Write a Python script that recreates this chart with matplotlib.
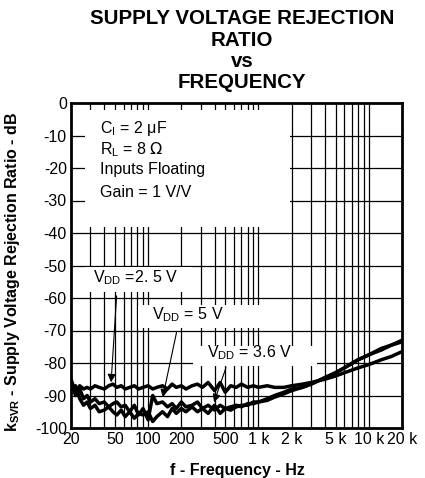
import numpy as np
import matplotlib
matplotlib.use("Agg")
import matplotlib.pyplot as plt
from matplotlib.patches import Rectangle

plt.rcParams['font.family'] = ['Liberation Sans', 'DejaVu Sans']

# frequency points (Hz) and kSVR curves (dB)
freq = [20, 22, 24, 26, 28, 30, 33, 36, 40, 44, 48, 52, 57, 62, 68, 75, 82, 90,
        100, 110, 120, 135, 150, 165, 180, 200, 220, 250, 280, 310, 350, 400,
        450, 500, 560, 630, 700, 800, 900, 1000, 1200, 1400, 1700, 2000, 2500,
        3000, 4000, 5000, 6000, 8000, 10000, 13000, 16000, 20000]

vdd_25 = [-85, -89, -87, -88, -87.5, -88, -87, -87.5, -88, -87, -86.5, -87.5,
          -87, -88, -87.5, -87, -88, -87.5, -87, -88, -87.5, -87, -88, -86.5,
          -87.5, -87, -88, -87, -86.5, -87.5, -86, -88.5, -86, -89, -87, -87.5,
          -86.5, -87.5, -87, -87.5, -87, -87.5, -87.5, -87, -86.5, -86, -85,
          -84, -83, -81.5, -80.5, -79, -78, -76.5]

vdd_5 = [-86, -90, -88, -91, -90, -92, -91, -92.5, -92, -93.5, -92.5, -92,
         -93.5, -93, -95, -93, -96, -94, -97.5, -90, -92.5, -92, -93.5, -92.5,
         -94, -92, -93.5, -93, -92, -94, -93, -94.5, -93, -94, -93.5, -93,
         -93.5, -92.5, -92.5, -92, -91.5, -90.5, -89.5, -88.5, -87.5, -86.5,
         -84.5, -83, -81.5, -79, -77.5, -75.5, -74.5, -73]

vdd_36 = [-88, -87, -91, -93, -92, -94, -93, -95, -94.5, -93.5, -95, -96,
          -94.5, -96.5, -95, -97, -95.5, -96, -95, -98, -96.5, -95, -96.5, -94,
          -95.5, -94, -95, -93.5, -95, -94, -95.5, -93, -95.5, -94, -94.5,
          -93.5, -93, -93, -92, -92, -91, -90, -89, -88, -87.5, -86.5, -84.5,
          -83, -81.5, -79, -77.5, -76, -74.5, -73.5]

xticks = [20, 50, 100, 200, 500, 1000, 2000, 5000, 10000, 20000]
xticklabels = ['20', '50', '100', '200', '500', '1 k', '2 k', '5 k', '10 k', '20 k']
yticks = list(range(-100, 1, 10))

grid_freqs = [30, 40, 50, 60, 70, 80, 90, 100, 200, 300, 400, 500, 600, 700,
              800, 900, 1000, 2000, 3000, 4000, 5000, 6000, 7000, 8000, 9000, 10000]

fs = 11.5

fig = plt.figure(figsize=(4.25, 4.78), dpi=100)
ax = fig.add_axes([71/425, 1 - 428/478, 331/425, 325/478])
ax.set_xscale('log')
ax.set_xlim(20, 20000)
ax.set_ylim(-100, 0)

# grid
for g in grid_freqs:
    ax.axvline(g, color='k', lw=0.9, zorder=1)
for y in yticks[1:-1]:
    ax.axhline(y, color='k', lw=0.9, zorder=1)

# white label backgrounds that hide the grid
boxes = [(0.042, 0.618, 0.620, 0.360),
         (0.042, 0.418, 0.324, 0.077),
         (0.202, 0.308, 0.460, 0.070),
         (0.369, 0.190, 0.374, 0.062)]
for bx, by, bw, bh in boxes:
    ax.add_patch(Rectangle((bx, by), bw, bh, transform=ax.transAxes,
                           facecolor='white', edgecolor='none', zorder=2))

for s in (vdd_25, vdd_5, vdd_36):
    ax.plot(freq, s, color='k', lw=2.5, zorder=3, solid_joinstyle='round')

ax.set_xticks(xticks)
ax.set_xticklabels(xticklabels, fontsize=fs)
ax.xaxis.set_minor_locator(matplotlib.ticker.NullLocator())
ax.set_yticks(yticks)
ax.set_yticklabels([str(v) for v in yticks], fontsize=fs)
ax.tick_params(length=0, pad=3)
for sp in ax.spines.values():
    sp.set_linewidth(2)

# conditions text
cond = [r'C$_\mathregular{I}$ = 2 $\mathregular{\mu}$F', r'R$_\mathregular{L}$ = 8 $\Omega$',
        'Inputs Floating', 'Gain = 1 V/V']
for i, t in enumerate(cond):
    ax.text(36.6, [-7.7, -14.5, -20.6, -27.4][i], t, fontsize=fs, va='center', zorder=4)

# curve labels with arrows
arrow = dict(arrowstyle='-|>', color='k', lw=0.8, mutation_scale=12)
ax.text(31.7, -53.8, r'V$_\mathregular{DD}$ =2. 5 V', fontsize=fs, va='center', zorder=4)
ax.annotate('', xy=(46, -86.8), xytext=(52, -58.5), arrowprops=arrow, zorder=4)
ax.text(108, -65.2, r'V$_\mathregular{DD}$ = 5 V', fontsize=fs, va='center', zorder=4)
ax.annotate('', xy=(134, -91.4), xytext=(183, -69.8), arrowprops=arrow, zorder=4)
ax.text(343, -76.9, r'V$_\mathregular{DD}$ = 3.6 V', fontsize=fs, va='center', zorder=4)
ax.annotate('', xy=(388, -92.9), xytext=(518, -80.6), arrowprops=arrow, zorder=4)

for yb, t in [(24, 'SUPPLY VOLTAGE REJECTION'), (46, 'RATIO'), (67, 'vs'), (88, 'FREQUENCY')]:
    fig.text(242/425, 1 - yb/478, t, fontsize=14.8, fontweight='bold', ha='center', va='baseline')

fig.text(237/425, 1 - 470/478, 'f - Frequency - Hz', fontsize=fs, fontweight='bold',
         ha='center', va='center')
fig.text(13/425, 1 - 272/478, r'k$_\mathregular{SVR}$ - Supply Voltage Rejection Ratio - dB',
         fontsize=fs, fontweight='bold', rotation=90, ha='center', va='center')

fig.savefig('out.png', dpi=100)
